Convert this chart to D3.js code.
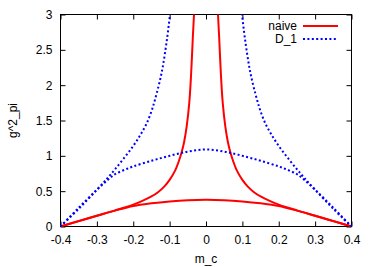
<!DOCTYPE html>
<html>
<head>
<meta charset="utf-8">
<script src="https://cdn.jsdelivr.net/npm/d3@7"></script>
<style>
	body { margin: 0; background: #fff; }
	text { font-family: 'Liberation Sans', Arial, sans-serif; font-size: 12px; fill: #000; }
</style>
</head>
<body>
<div id="chart"></div>
<script>
	// tick labels
	var xTicks = [-0.4, -0.3, -0.2, -0.1, 0, 0.1, 0.2, 0.3, 0.4];
	var yTicks = [0, 0.5, 1, 1.5, 2, 2.5, 3];

	// naive: lower branch over the whole range
	var naiveLowM = [-0.4, -0.35, -0.3, -0.25, -0.2, -0.15, -0.1, -0.05, 0, 0.05, 0.1, 0.15, 0.2, 0.25, 0.3, 0.35, 0.4];
	var naiveLowG = [0, 0.076, 0.152, 0.225, 0.29, 0.328, 0.355, 0.373, 0.38, 0.373, 0.355, 0.328, 0.29, 0.225, 0.152, 0.076, 0];

	// naive: upper branch, left and right halves
	var naiveUpLeftM = [-0.4, -0.3, -0.25, -0.2, -0.175, -0.15, -0.132, -0.115, -0.1, -0.085, -0.075, -0.067, -0.06, -0.053, -0.046, -0.041, -0.036, -0.033, -0.03];
	var naiveUpLeftG = [0, 0.152, 0.228, 0.31, 0.362, 0.425, 0.485, 0.565, 0.66, 0.79, 0.92, 1.05, 1.2, 1.42, 1.75, 2.15, 2.7, 3.0, 3.4];
	var naiveUpRightM = [0.03, 0.033, 0.036, 0.041, 0.046, 0.053, 0.06, 0.067, 0.075, 0.085, 0.1, 0.115, 0.132, 0.15, 0.175, 0.2, 0.25, 0.3, 0.4];
	var naiveUpRightG = [3.4, 3.0, 2.7, 2.15, 1.75, 1.42, 1.2, 1.05, 0.92, 0.79, 0.66, 0.565, 0.485, 0.425, 0.362, 0.31, 0.228, 0.152, 0];

	// D_1: lower branch
	var d1LowM = [-0.4, -0.35, -0.3, -0.27, -0.25, -0.225, -0.2, -0.15, -0.1, -0.05, 0, 0.05, 0.1, 0.15, 0.2, 0.225, 0.25, 0.27, 0.3, 0.35, 0.4];
	var d1LowG = [0, 0.265, 0.52, 0.66, 0.74, 0.8, 0.85, 0.93, 1.0, 1.06, 1.09, 1.06, 1.0, 0.93, 0.85, 0.8, 0.74, 0.66, 0.52, 0.265, 0];

	// D_1: upper branch, left and right halves
	var d1UpLeftM = [-0.4, -0.35, -0.3, -0.27, -0.25, -0.225, -0.2, -0.18, -0.164, -0.15, -0.14, -0.123, -0.11, -0.099, -0.09];
	var d1UpLeftG = [0, 0.25, 0.52, 0.69, 0.81, 0.97, 1.14, 1.3, 1.45, 1.63, 1.8, 2.15, 2.55, 3.0, 3.45];
	var d1UpRightM = [0.09, 0.099, 0.11, 0.123, 0.14, 0.15, 0.164, 0.18, 0.2, 0.225, 0.25, 0.27, 0.3, 0.35, 0.4];
	var d1UpRightG = [3.45, 3.0, 2.55, 2.15, 1.8, 1.63, 1.45, 1.3, 1.14, 0.97, 0.81, 0.69, 0.52, 0.25, 0];

	var seriesNames = ['naive', 'D_1'];
	var seriesColors = ['#ff0000', '#0000ff'];

	var width = 382, height = 267;
	var margin = {left: 60.5, right: 30.5, top: 14.5, bottom: 40.5};

	var x = d3.scaleLinear().domain([-0.4, 0.4]).range([margin.left, width - margin.right]);
	var y = d3.scaleLinear().domain([0, 3]).range([height - margin.bottom, margin.top]);

	var svg = d3.select('#chart').append('svg')
		.attr('width', width)
		.attr('height', height);

	svg.append('defs').append('clipPath').attr('id', 'plot-clip')
		.append('rect')
		.attr('x', x(-0.4)).attr('y', y(3))
		.attr('width', x(0.4) - x(-0.4)).attr('height', y(0) - y(3));

	// axes, gnuplot style: inward ticks mirrored on all sides
	var tick = 5;
	svg.append('g').attr('transform', 'translate(0,' + y(0) + ')')
		.call(d3.axisBottom(x).tickValues(xTicks).tickSizeInner(-tick).tickSizeOuter(0).tickPadding(9)
			.tickFormat(function(d) { return d3.format('.1f')(d).replace('0.0', '0').replace('−', '-'); }))
		.call(function(g) { g.select('.domain').remove(); });
	svg.append('g').attr('transform', 'translate(0,' + y(3) + ')')
		.call(d3.axisTop(x).tickValues(xTicks).tickSizeInner(-tick).tickSizeOuter(0).tickFormat(''))
		.call(function(g) { g.select('.domain').remove(); });
	svg.append('g').attr('transform', 'translate(' + x(-0.4) + ',0)')
		.call(d3.axisLeft(y).tickValues(yTicks).tickSizeInner(-tick).tickSizeOuter(0).tickPadding(8)
			.tickFormat(function(d) { return String(d); }))
		.call(function(g) { g.select('.domain').remove(); });
	svg.append('g').attr('transform', 'translate(' + x(0.4) + ',0)')
		.call(d3.axisRight(y).tickValues(yTicks).tickSizeInner(-tick).tickSizeOuter(0).tickFormat(''))
		.call(function(g) { g.select('.domain').remove(); });

	svg.selectAll('.tick text').attr('font-family', null).attr('font-size', null);

	svg.append('rect')
		.attr('x', x(-0.4)).attr('y', y(3))
		.attr('width', x(0.4) - x(-0.4)).attr('height', y(0) - y(3))
		.attr('fill', 'none').attr('stroke', '#000').attr('stroke-width', 1);

	// curves
	var line = d3.line()
		.x(function(d) { return x(d[0]); })
		.y(function(d) { return y(d[1]); })
		.curve(d3.curveCatmullRom.alpha(0.5));

	var branches = [
		{s: 0, m: naiveLowM, g: naiveLowG},
		{s: 0, m: naiveUpLeftM, g: naiveUpLeftG},
		{s: 0, m: naiveUpRightM, g: naiveUpRightG},
		{s: 1, m: d1LowM, g: d1LowG},
		{s: 1, m: d1UpLeftM, g: d1UpLeftG},
		{s: 1, m: d1UpRightM, g: d1UpRightG}
	];

	var plot = svg.append('g').attr('clip-path', 'url(#plot-clip)');
	plot.selectAll('path')
		.data(branches)
		.enter().append('path')
		.attr('d', function(b) { return line(d3.zip(b.m, b.g)); })
		.attr('fill', 'none')
		.attr('stroke', function(b) { return seriesColors[b.s]; })
		.attr('stroke-width', 2)
		.attr('stroke-dasharray', function(b) { return b.s === 1 ? '2,2.4' : null; });

	// legend
	var legend = svg.append('g').selectAll('g')
		.data(seriesNames)
		.enter().append('g')
		.attr('transform', function(d, i) { return 'translate(0,' + (26 + i * 13) + ')'; });
	legend.append('text')
		.attr('x', 297).attr('dy', '0.35em')
		.attr('text-anchor', 'end')
		.text(function(d) { return d; });
	legend.append('line')
		.attr('x1', 303).attr('x2', 338)
		.attr('stroke', function(d, i) { return seriesColors[i]; })
		.attr('stroke-width', 2)
		.attr('stroke-dasharray', function(d, i) { return i === 1 ? '2,2.4' : null; });

	// axis titles
	svg.append('text')
		.attr('x', (x(-0.4) + x(0.4)) / 2).attr('y', 263)
		.attr('text-anchor', 'middle')
		.text('m_c');
	svg.append('text')
		.attr('transform', 'translate(17,' + ((y(0) + y(3)) / 2) + ') rotate(-90)')
		.attr('text-anchor', 'middle')
		.text('g^2_pi');
</script>
</body>
</html>
